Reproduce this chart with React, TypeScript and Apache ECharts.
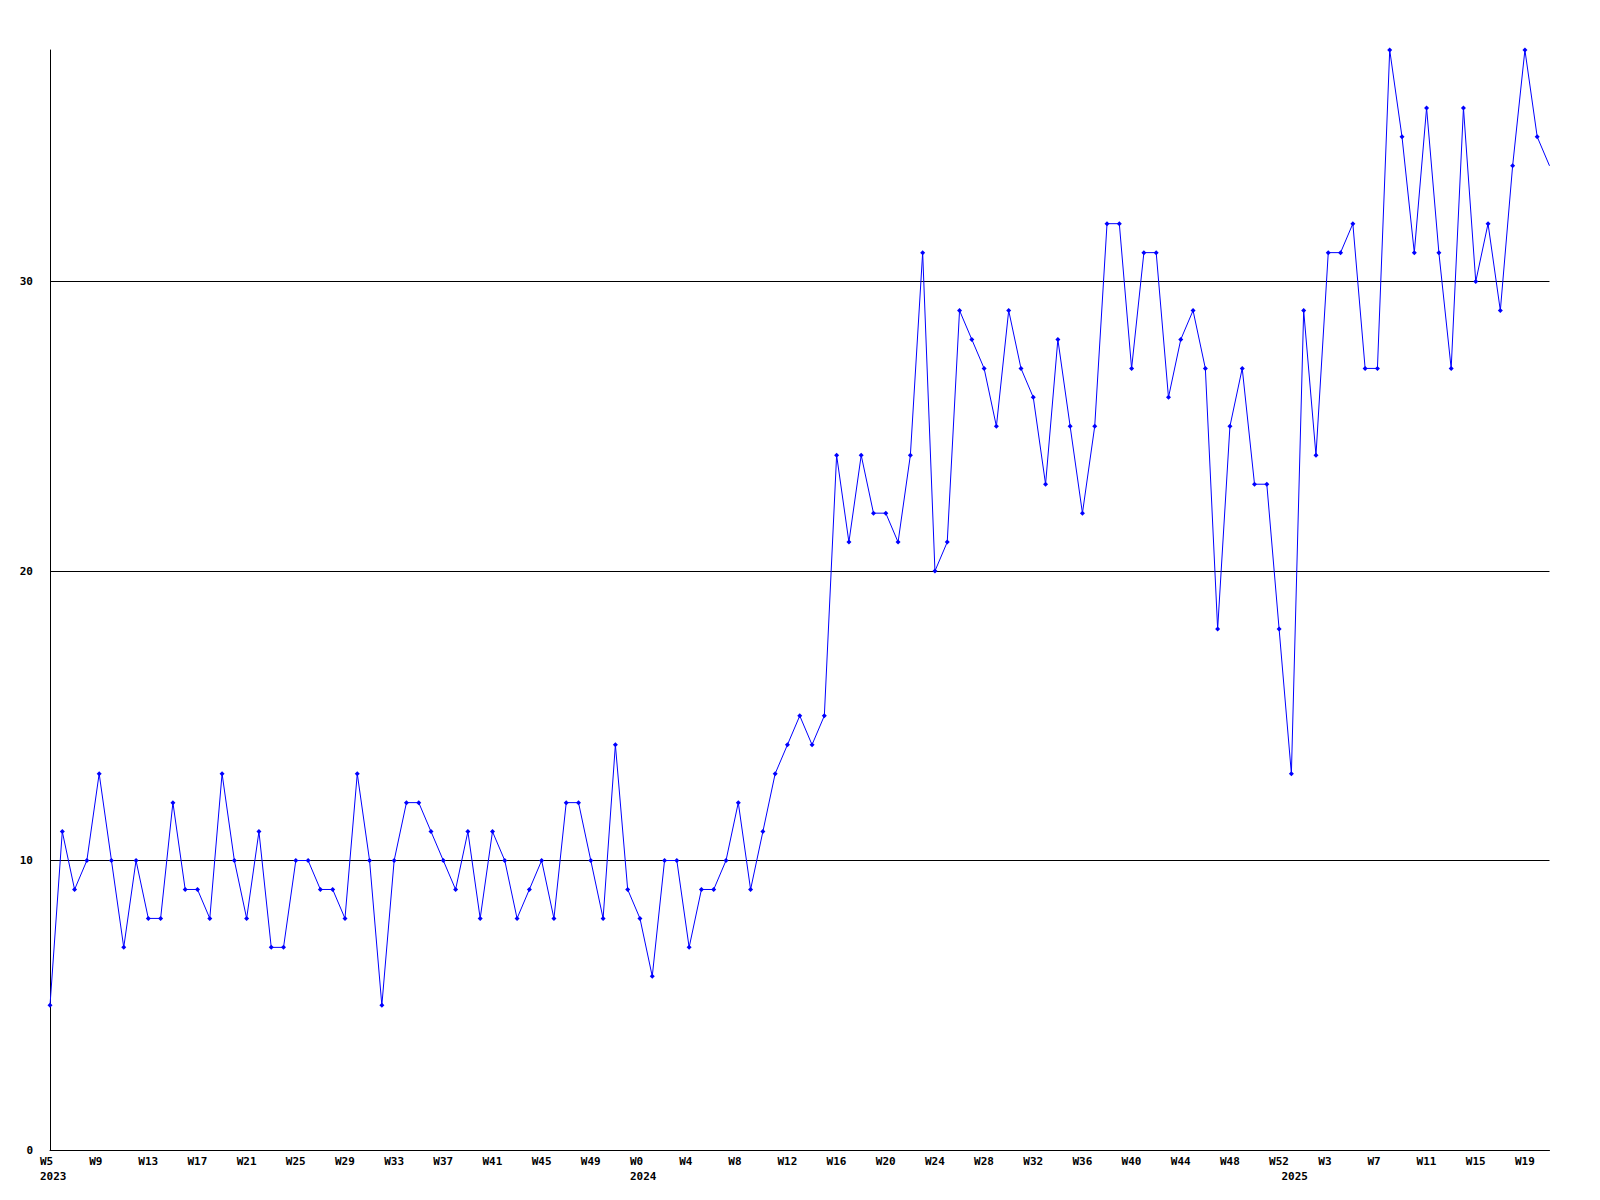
import React, { useEffect, useRef } from "react";
import * as echarts from "echarts";

// Week labels per year (first point of each year gets the year label underneath)
const weeks2023 = [
  "W5", "W6", "W7", "W8", "W9", "W10", "W11", "W12", "W13", "W14", "W15", "W16",
  "W17", "W18", "W19", "W20", "W21", "W22", "W23", "W24", "W25", "W26", "W27", "W28",
  "W29", "W30", "W31", "W32", "W33", "W34", "W35", "W36", "W37", "W38", "W39", "W40",
  "W41", "W42", "W43", "W44", "W45", "W46", "W47", "W48", "W49", "W50", "W51", "W52",
];
const weeks2024 = [
  "W0", "W1", "W2", "W3", "W4", "W5", "W6", "W7", "W8", "W9", "W10", "W11", "W12",
  "W13", "W14", "W15", "W16", "W17", "W18", "W19", "W20", "W21", "W22", "W23", "W24",
  "W25", "W26", "W27", "W28", "W29", "W30", "W31", "W32", "W33", "W34", "W35", "W36",
  "W37", "W38", "W39", "W40", "W41", "W42", "W43", "W44", "W45", "W46", "W47", "W48",
  "W49", "W50", "W51", "W52",
];
const weeks2025 = [
  "W0", "W1", "W2", "W3", "W4", "W5", "W6", "W7", "W8", "W9", "W10", "W11",
  "W12", "W13", "W14", "W15", "W16", "W17", "W18", "W19", "W20", "W21",
];
const years = ["2023", "2024", "2025"];

const values2023 = [
  5, 11, 9, 10, 13, 10, 7, 10, 8, 8, 12, 9, 9, 8, 13, 10, 8, 11, 7, 7, 10, 10, 9, 9,
  8, 13, 10, 5, 10, 12, 12, 11, 10, 9, 11, 8, 11, 10, 8, 9, 10, 8, 12, 12, 10, 8, 14, 9,
];
const values2024 = [
  8, 6, 10, 10, 7, 9, 9, 10, 12, 9, 11, 13, 14, 15, 14, 15, 24, 21, 24, 22, 22, 21,
  24, 31, 20, 21, 29, 28, 27, 25, 29, 27, 26, 23, 28, 25, 22, 25, 32, 32, 27, 31, 31,
  26, 28, 29, 27, 18, 25, 27, 23, 23, 18,
];
const values2025 = [
  13, 29, 24, 31, 31, 32, 27, 27, 38, 35, 31, 36, 31, 27, 36, 30, 32, 29, 34, 38, 35, 34,
];

const yTicks = [0, 10, 20, 30];

export default function App() {
  const ref = useRef<HTMLDivElement>(null);

  useEffect(() => {
    if (!ref.current) return;
    const chart = echarts.init(ref.current, null, { renderer: "svg" });

    const weekGroups = [weeks2023, weeks2024, weeks2025];
    const valueGroups = [values2023, values2024, values2025];
    const categories: string[] = [];
    const yearAt: Record<number, string> = {};
    weekGroups.forEach((g, gi) => {
      yearAt[categories.length] = years[gi];
      categories.push(...g);
    });
    const values: number[] = [];
    valueGroups.forEach((g) => values.push(...g));
    const lastIdx = values.length - 1;
    const seriesData = values.map((v, i) =>
      i === lastIdx ? { value: v, symbol: "none" } : v
    );

    const font = "'DejaVu Sans Mono', 'Liberation Mono', monospace";

    chart.setOption({
      animation: false,
      backgroundColor: "#ffffff",
      grid: { left: 50, right: 50.5, top: 50, bottom: 50, containLabel: false },
      xAxis: {
        type: "category",
        data: categories,
        boundaryGap: false,
        axisLine: { show: true, lineStyle: { color: "#000000", width: 1 } },
        axisTick: { show: false },
        splitLine: { show: false },
        axisLabel: {
          interval: (idx: number) => idx % 4 === 0 || yearAt[idx] !== undefined,
          formatter: (val: string, idx: number) => {
            const yr = yearAt[idx];
            if (idx % 4 === 0) return yr ? val + "\n" + yr : val;
            return yr ? "\n" + yr : "";
          },
          align: "left",
          padding: [0, 0, 0, -10],
          margin: 4,
          color: "#000000",
          fontFamily: font,
          fontWeight: "bold",
          fontSize: 11,
          lineHeight: 15,
        },
      },
      yAxis: {
        type: "value",
        min: 0,
        max: 38,
        interval: 10,
        axisLine: { show: true, lineStyle: { color: "#000000", width: 1 } },
        axisTick: { show: false },
        splitLine: {
          show: true,
          showMinLine: false,
          showMaxLine: false,
          lineStyle: { color: "#000000", width: 1 },
        },
        axisLabel: {
          showMaxLabel: false,
          margin: 17,
          color: "#000000",
          fontFamily: font,
          fontWeight: "bold",
          fontSize: 11,
          formatter: (v: number) => (yTicks.includes(v) ? String(v) : ""),
        },
      },
      series: [
        {
          type: "line",
          data: seriesData,
          symbol: "diamond",
          symbolSize: 5,
          showSymbol: true,
          showAllSymbol: true,
          lineStyle: { color: "#0000ff", width: 1 },
          itemStyle: { color: "#0000ff" },
          clip: false,
        },
      ],
    });

    return () => chart.dispose();
  }, []);

  return (
    <div
      ref={ref}
      style={{ position: "absolute", left: 0, top: 0, width: 1600, height: 1200 }}
    />
  );
}
